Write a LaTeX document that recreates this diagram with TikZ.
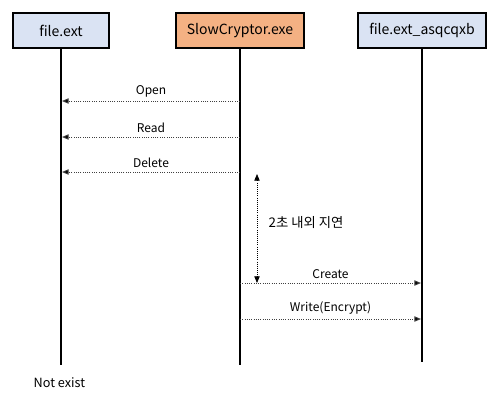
\documentclass[tikz,border=0pt]{standalone}
\usepackage{fontspec}
\setmainfont{Noto Sans CJK KR}
\usetikzlibrary{positioning, arrows.meta}

\definecolor{filefill}{HTML}{DAE3F3}
\definecolor{procfill}{HTML}{F4B183}
\definecolor{msggray}{HTML}{404040}

\begin{document}
\begin{tikzpicture}[
        x=0.75pt, y=-0.75pt,
        every node/.style={font=\fontsize{9}{11}\selectfont},
        actor/.style={rectangle, draw=black, line width=1.5pt, minimum height=26pt, font=\fontsize{10.5}{12}\selectfont},
        lifeline/.style={line width=1.5pt},
        msg/.style={-{Triangle[length=5pt, width=4pt, fill=black]}, densely dotted, draw=msggray, line width=0.7pt},
        delay/.style={{Triangle[length=5pt, width=4pt]}-{Triangle[length=5pt, width=4pt]}, densely dotted, line width=0.6pt}
    ]
        \useasboundingbox (0,0) rectangle (503,405);
        % Participants
        \node[actor, fill=filefill, minimum width=72pt] (orig) at (61,30.5) {file.ext};
        \node[actor, fill=procfill, minimum width=96pt] (proc) at (240,30.5) {SlowCryptor.exe};
        \node[actor, fill=filefill, minimum width=96pt] (enc) at (422,30.5) {file.ext\_asqcqxb};
        % Lifelines
        \coordinate (origEnd) at (61,365);
        \coordinate (procEnd) at (240,365);
        \coordinate (encEnd) at (422,362);
        \draw[lifeline] (orig) -- (origEnd);
        \draw[lifeline] (proc) -- (procEnd);
        \draw[lifeline] (enc) -- (encEnd);
        % Message end points
        \foreach \n/\y in {open/101, read/137, delete/172, create/283, write/319} {
            \coordinate (p-\n) at (240,\y);
        }
        \foreach \n/\y in {open/101, read/137, delete/172} {
            \coordinate (o-\n) at (62,\y);
        }
        \foreach \n/\y in {create/283, write/319} {
            \coordinate (e-\n) at (421,\y);
        }
        % Messages to file.ext
        \draw[msg] (p-open) -- node[above=-0.5pt] {Open} (o-open);
        \draw[msg] (p-read) -- node[above=-0.5pt] {Read} (o-read);
        \draw[msg] (p-delete) -- node[above=-0.5pt] {Delete} (o-delete);
        % Messages to file.ext_asqcqxb
        \draw[msg] (p-create) -- node[above=-0.5pt] {Create} (e-create);
        \draw[msg] (p-write) -- node[above=-0.5pt] {Write(Encrypt)} (e-write);
        % Delay
        \coordinate (d-top) at (257,174);
        \coordinate (d-bot) at (257,283);
        \draw[delay] (d-top) -- (d-bot);
        \node[anchor=west, font=\fontsize{10}{12}\selectfont] (delayLbl) at (264,223) {2초 내외 지연};
        % Note
        \node[anchor=west, font=\fontsize{9.5}{11}\selectfont] (gone) at (29,383) {Not exist};
    \end{tikzpicture}
\end{document}
